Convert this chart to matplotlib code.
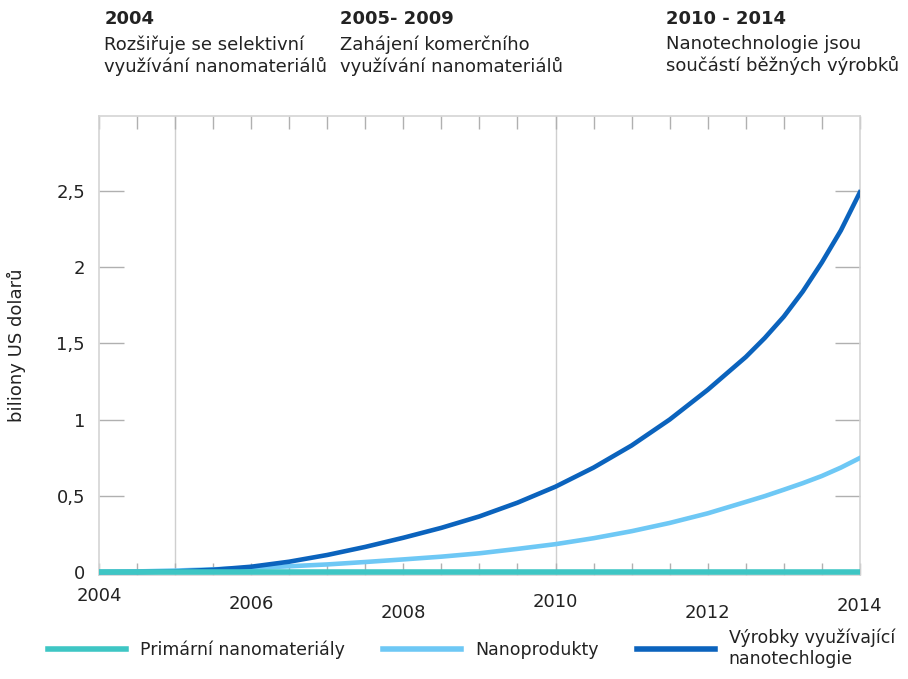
import matplotlib
matplotlib.use("Agg")
import matplotlib.pyplot as plt
from matplotlib.lines import Line2D

# data (billions US dollars)
roky = [2004, 2004.5, 2005, 2005.5, 2006, 2006.5, 2007, 2007.5, 2008, 2008.5, 2009,
        2009.5, 2010, 2010.5, 2011, 2011.5, 2012, 2012.5, 2012.75, 2013, 2013.25,
        2013.5, 2013.75, 2014]
primarni = [0.0] * len(roky)
nanoprodukty = [0.0, 0.004, 0.01, 0.018, 0.027, 0.038, 0.05, 0.066, 0.083, 0.101, 0.123,
                0.152, 0.183, 0.222, 0.268, 0.322, 0.385, 0.46, 0.498, 0.54, 0.583,
                0.63, 0.685, 0.748]
vyrobky = [0.0, 0.0, 0.004, 0.015, 0.035, 0.068, 0.112, 0.165, 0.225, 0.29, 0.365,
           0.455, 0.56, 0.685, 0.83, 1.0, 1.195, 1.41, 1.535, 1.675, 1.84,
           2.03, 2.24, 2.49]

serie_nazvy = ["Primární nanomateriály", "Nanoprodukty", "Výrobky využívající\nnanotechlogie"]
barvy = ["#3ec6c4", "#6ec8f5", "#0b63bd"]

y_ticks = [0.5, 1, 1.5, 2, 2.5]
y_labels = ["0,5", "1", "1,5", "2", "2,5"]
x_label_roky = [2004, 2006, 2008, 2010, 2012, 2014]
x_label_posun = [-15, -21, -27, -19, -27, -22]  # labels in the source sit at uneven heights

obdobi = ["2004", "2005- 2009", "2010 - 2014"]
popisy = ["Rozšiřuje se selektivní\nvyužívání nanomateriálů",
          "Zahájení komerčního\nvyužívání nanomateriálů",
          "Nanotechnologie jsou\nsoučástí běžných výrobků"]
popis_x = [0.115, 0.374, 0.733]

plt.rcParams['font.family'] = ['DejaVu Sans']
text_barva = "#222222"

fig = plt.figure(figsize=(9.08, 6.79), dpi=100)
ax = fig.add_axes([0.109, 0.153, 0.838, 0.676])

ax.plot(roky, nanoprodukty, color=barvy[1], linewidth=3.3, solid_joinstyle='round', zorder=3)
ax.plot(roky, vyrobky, color=barvy[2], linewidth=3.3, solid_joinstyle='round', zorder=4)
ax.plot(roky, primarni, color=barvy[0], linewidth=4, solid_capstyle='butt', zorder=5)

ax.set_xlim(2004, 2014)
ax.set_ylim(-0.02, 2.99)

for x in [2005, 2010]:
    ax.axvline(x, color="#cfcfcf", linewidth=1, zorder=1)

for s in ax.spines.values():
    s.set_color("#d4d4d4")
    s.set_linewidth(1.2)

ax.set_yticks(y_ticks)
ax.set_yticklabels(y_labels)
ax.tick_params(axis='y', direction='in', length=18, color="#b0b0b0", width=1,
               left=True, right=True, labelsize=13, labelcolor=text_barva, pad=10)
ax.set_yticks([0], minor=True)
ax.set_yticklabels(["0"], minor=True)
ax.tick_params(axis='y', which='minor', length=0, labelsize=13, labelcolor=text_barva, pad=10)

ax.set_xticks([2004 + 0.5 * i for i in range(21)])
ax.tick_params(axis='x', direction='in', length=9, color="#b0b0b0", width=1,
               top=True, bottom=True, labelbottom=False)

for rok, posun in zip(x_label_roky, x_label_posun):
    ax.annotate(str(rok), xy=(rok, 0), xycoords=('data', 'axes fraction'),
                xytext=(0, posun), textcoords='offset points',
                ha='center', va='center', fontsize=13, color=text_barva)

ax.set_ylabel("biliony US dolarů", fontsize=13, color=text_barva, labelpad=22)

for x, nadpis, popis in zip(popis_x, obdobi, popisy):
    fig.text(x, 0.985, nadpis, fontsize=13, fontweight='bold', color=text_barva, va='top')
    fig.text(x, 0.948, popis, fontsize=13, color=text_barva, va='top', linespacing=1.2)

handles = [Line2D([], [], color=c, linewidth=4) for c in barvy]
fig.legend(handles, serie_nazvy, loc='upper left', bbox_to_anchor=(0.045, 0.085),
           ncol=3, frameon=False, fontsize=12.5, handlelength=4.5, handletextpad=0.8,
           columnspacing=2.2, labelcolor=text_barva, borderaxespad=0)

fig.savefig("out.png", dpi=100)
